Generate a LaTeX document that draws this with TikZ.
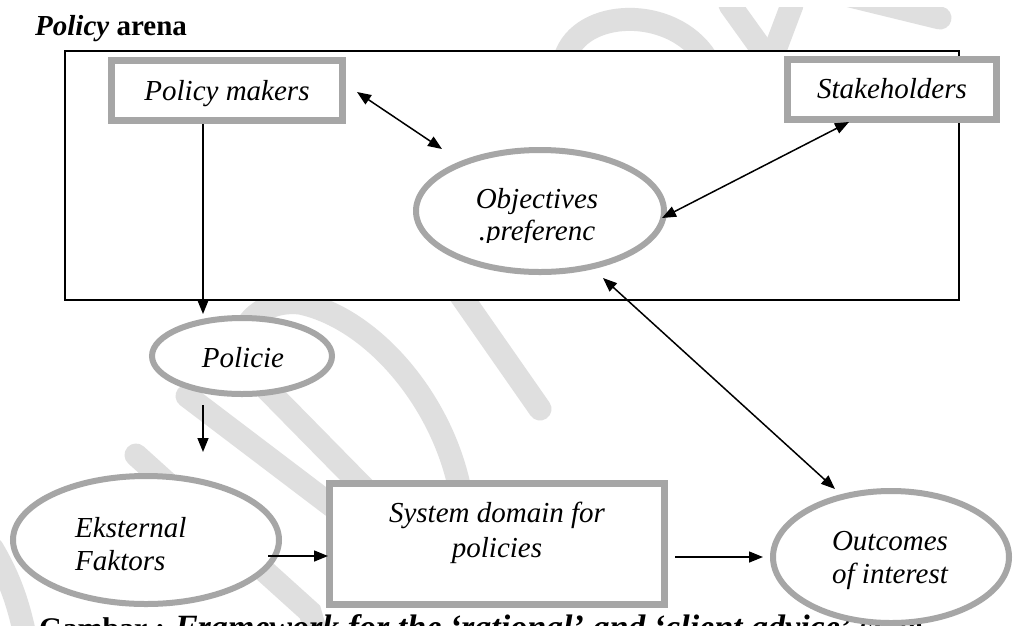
\documentclass[tikz,border=0pt]{standalone}
\usepackage{fontspec}
\setmainfont{Liberation Serif}
\usetikzlibrary{arrows.meta,shapes.geometric,calc}
\definecolor{edgegray}{HTML}{A6A6A6}
\definecolor{markgray}{HTML}{DFDFDF}
\begin{document}
\begin{tikzpicture}[x=1pt,y=-1pt,
  box/.style={draw=edgegray,line width=7pt,fill=white,rectangle,inner sep=0pt},
  oval/.style={draw=edgegray,line width=6pt,fill=white,ellipse,inner sep=0pt},
  lbl/.style={inner sep=0pt,font=\fontsize{29}{34}\selectfont\itshape},
  arr/.style={line width=1.5pt,-{Triangle[length=14pt,width=11pt]}},
  dbl/.style={line width=1.5pt,{Triangle[length=14pt,width=11pt]}-{Triangle[length=14pt,width=11pt]}},
  wband/.style={draw=markgray,line width=23pt,line cap=round}]

\useasboundingbox (0,0) rectangle (1015,625);
\fill[white] (0,0) rectangle (1015,625);

% light background lettering
\begin{scope}
  \clip (0,7) rectangle (1015,640);
  \draw[wband] (565,58) .. controls (580,8) and (672,5) .. (706,58);
  \draw[wband] (730,5) -- (768,58);
  \draw[wband] (792,5) -- (772,58);
  \draw[wband] (850,-4) -- (940,18);
  \draw[wband] (457,290) -- (540,409);
  \draw[wband] (364,488) -- (250,372) .. controls (225,342) and (252,298) .. (300,303)
                .. controls (372,318) and (442,400) .. (460,490);
  \draw[wband] (187,396) -- (332,506);
  \draw[wband] (136,455) -- (310,612) -- (318,640);
  \draw[wband] (-8,548) .. controls (8,575) and (18,600) .. (26,640);
\end{scope}

% policy arena frame
\node[draw,line width=2pt,fill=white,rectangle,inner sep=0pt,
      minimum width=894pt,minimum height=249pt] (arena) at (512,175.5) {};
\node[inner sep=0pt,anchor=base west,font=\fontsize{29}{34}\selectfont\bfseries]
  (title) at (35,35) {\textit{Policy} arena};

% caption (partly hidden under the outcomes oval)
\node[inner sep=0pt,anchor=base west,font=\fontsize{30}{34}\selectfont\bfseries]
  (caption) at (39,638) {Gambar : {\fontsize{34}{38}\selectfont\itshape Framework for the ‘rational’ and ‘client advice’ style}};

% shapes
\node[box,minimum width=231pt,minimum height=60pt] (pm) at (227,90.5) {};
\node[box,minimum width=209pt,minimum height=60pt] (sh) at (892,89.5) {};
\node[oval,minimum width=248pt,minimum height=122pt] (obj) at (540,211) {};
\node[oval,minimum width=180pt,minimum height=76pt] (pol) at (242,356) {};
\node[oval,minimum width=266pt,minimum height=128pt] (ext) at (146,540) {};
\node[box,minimum width=335pt,minimum height=121pt] (sys) at (497,544) {};
\node[oval,minimum width=236pt,minimum height=132pt] (out) at (891,557) {};

% connectors
\draw[dbl] ($(pm.east)+(11,1.5)$) -- ($(obj.north)+(-98,2)$);
\draw[dbl] ($(sh.south)+(-43,-1)$) -- ($(obj.east)+(-5,7)$);
\draw[dbl] ($(obj.south)+(63,3)$) -- ($(out.north)+(-56,1)$);
\draw[arr] ($(pm.south)+(-24,0)$) -- ($(pol.north)+(-39,-1)$);
\draw[arr] ($(pol.south)+(-39,8)$) -- ($(ext.north)+(57,-21)$);
\draw[arr] ($(ext.east)+(-14,16)$) -- ($(sys.west)+(2,12)$);
\draw[arr] ($(sys.east)+(7,13)$) -- ($(out.west)+(-7,0)$);

% labels
\node[lbl,anchor=base] (pmtext) at (227,100) {Policy makers};
\node[lbl,anchor=base] (shtext) at (892,98) {Stakeholders};
\node[lbl,anchor=base] (objtext) at (537,208) {Objectives};
\begin{scope}
  \clip (400,150) rectangle (680,242);
  \node[lbl,anchor=base] (preftext) at (537,240) {.preferenc};
\end{scope}
\node[lbl,anchor=base] (poltext) at (243,367) {Policie};
\node[lbl,anchor=base west] (exttext) at (75,537) {Eksternal};
\node[lbl,anchor=base west] (exttext2) at (75,570) {Faktors};
\node[lbl,anchor=base] (systext) at (497,522) {System domain for};
\node[lbl,anchor=base] (systext2) at (497,557) {policies};
\node[lbl,anchor=base] (outtext) at (890,550) {Outcomes};
\node[lbl,anchor=base] (outtext2) at (890,583) {of interest};
\end{tikzpicture}
\end{document}
